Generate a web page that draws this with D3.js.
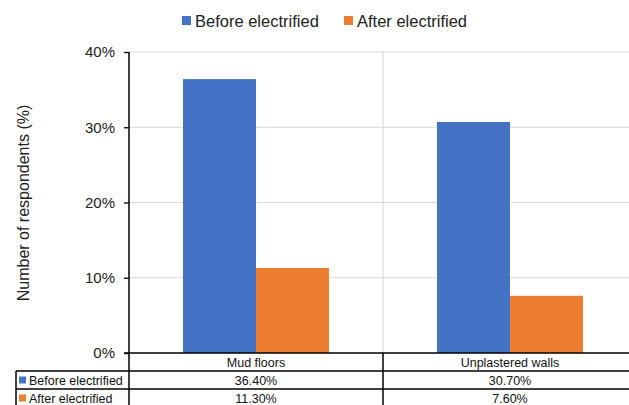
<!DOCTYPE html>
<html><head><meta charset="utf-8">
<script src="https://cdn.jsdelivr.net/npm/d3@7"></script>
<style>body{margin:0;background:#fff;} svg{display:block;font-family:"Liberation Sans",Arial,sans-serif;}</style>
</head><body>
<svg id="c" width="629" height="405"></svg>
<script>
const categories = ["Mud floors", "Unplastered walls"];
const seriesNames = ["Before electrified", "After electrified"];
const beforeValues = [0.364, 0.307];
const afterValues = [0.113, 0.076];
const valueLabels = [["36.40%", "30.70%"], ["11.30%", "7.60%"]];
const yTicks = [0, 0.1, 0.2, 0.3, 0.4];
const colors = ["#4472C4", "#ED7D31"];

(function () {
const svg = d3.select("#c");
const pLeft = 129, pRight = 637, pTop = 52, pBottom = 353;
const x0 = d3.scaleBand().domain(categories).range([pLeft, pRight]).paddingInner(0).paddingOuter(0);
const x1 = d3.scaleBand().domain(seriesNames).range([0, x0.bandwidth()]).paddingInner(0).paddingOuter(0.74);
const y = d3.scaleLinear().domain([0, 0.4]).range([pBottom, pTop]);
const seriesValues = [beforeValues, afterValues];

// gridlines
svg.append("g").selectAll("line").data(yTicks.filter(d => d > 0)).join("line")
  .attr("x1", pLeft).attr("x2", 629).attr("y1", d => y(d)).attr("y2", d => y(d))
  .attr("stroke", "#d9d9d9").attr("stroke-width", 1);
svg.append("line").attr("x1", x0(categories[1])).attr("x2", x0(categories[1]))
  .attr("y1", pTop).attr("y2", pBottom).attr("stroke", "#d9d9d9").attr("stroke-width", 1.2);

// bars
seriesNames.forEach((s, si) => {
  svg.append("g").selectAll("rect").data(categories).join("rect")
    .attr("x", c => x0(c) + x1(s)).attr("width", x1.bandwidth())
    .attr("y", (c, i) => y(seriesValues[si][i]))
    .attr("height", (c, i) => y(0) - y(seriesValues[si][i]))
    .attr("fill", colors[si]);
});

// y axis
const yAxis = d3.axisLeft(y).tickValues(yTicks).tickFormat(d3.format(".0%")).tickSize(5).tickPadding(9);
const ga = svg.append("g").attr("transform", `translate(${pLeft},0)`).call(yAxis);
ga.select(".domain").remove();
ga.selectAll(".tick line").attr("stroke", "#000").attr("stroke-width", 1.3);
ga.selectAll(".tick text").attr("font-size", 15).attr("fill", "#222").attr("font-family", "Liberation Sans, Arial, sans-serif");
svg.append("line").attr("x1", pLeft).attr("x2", pLeft).attr("y1", pTop).attr("y2", 405)
  .attr("stroke", "#000").attr("stroke-width", 1.5);

// y axis label
svg.append("text").attr("transform", `translate(29,${(pTop + pBottom) / 2 + 0.5}) rotate(-90)`)
  .attr("text-anchor", "middle").attr("font-size", 16).attr("fill", "#222")
  .text("Number of respondents (%)");

// data table
const rowY = [353, 371, 389, 407];
svg.append("line").attr("x1", pLeft - 5).attr("x2", 629).attr("y1", rowY[0]).attr("y2", rowY[0]).attr("stroke", "#000").attr("stroke-width", 1.5);
[1, 2].forEach(r => {
  svg.append("line").attr("x1", 16).attr("x2", 629).attr("y1", rowY[r]).attr("y2", rowY[r]).attr("stroke", "#000").attr("stroke-width", 1.5);
});
svg.append("line").attr("x1", 16).attr("x2", 16).attr("y1", rowY[1]).attr("y2", 405).attr("stroke", "#000").attr("stroke-width", 1.5);
svg.append("line").attr("x1", x0(categories[1])).attr("x2", x0(categories[1])).attr("y1", rowY[0]).attr("y2", 405).attr("stroke", "#000").attr("stroke-width", 1.5);

svg.append("g").selectAll("text").data(categories).join("text")
  .attr("x", c => x0(c) + x0.bandwidth() / 2).attr("y", (rowY[0] + rowY[1]) / 2 + 4.5)
  .attr("text-anchor", "middle").attr("font-size", 12.5).attr("fill", "#111").text(c => c);
seriesNames.forEach((s, si) => {
  const ry = (rowY[si + 1] + rowY[si + 2]) / 2;
  svg.append("rect").attr("x", 19).attr("y", ry - 3.5).attr("width", 7).attr("height", 7).attr("fill", colors[si]);
  svg.append("text").attr("x", 29).attr("y", ry + 4.5).attr("font-size", 12.5).attr("fill", "#111").text(s);
  svg.append("g").selectAll("text").data(categories).join("text")
    .attr("x", c => x0(c) + x0.bandwidth() / 2).attr("y", ry + 4.5)
    .attr("text-anchor", "middle").attr("font-size", 12.5).attr("fill", "#111")
    .text((c, i) => valueLabels[si][i]);
});

// legend
const legX = [182, 344];
seriesNames.forEach((s, si) => {
  svg.append("rect").attr("x", legX[si]).attr("y", 16).attr("width", 9).attr("height", 9).attr("fill", colors[si]);
  svg.append("text").attr("x", legX[si] + 13).attr("y", 26.5).attr("font-size", 16.5).attr("fill", "#222").text(s);
});
})();
</script>
</body></html>
